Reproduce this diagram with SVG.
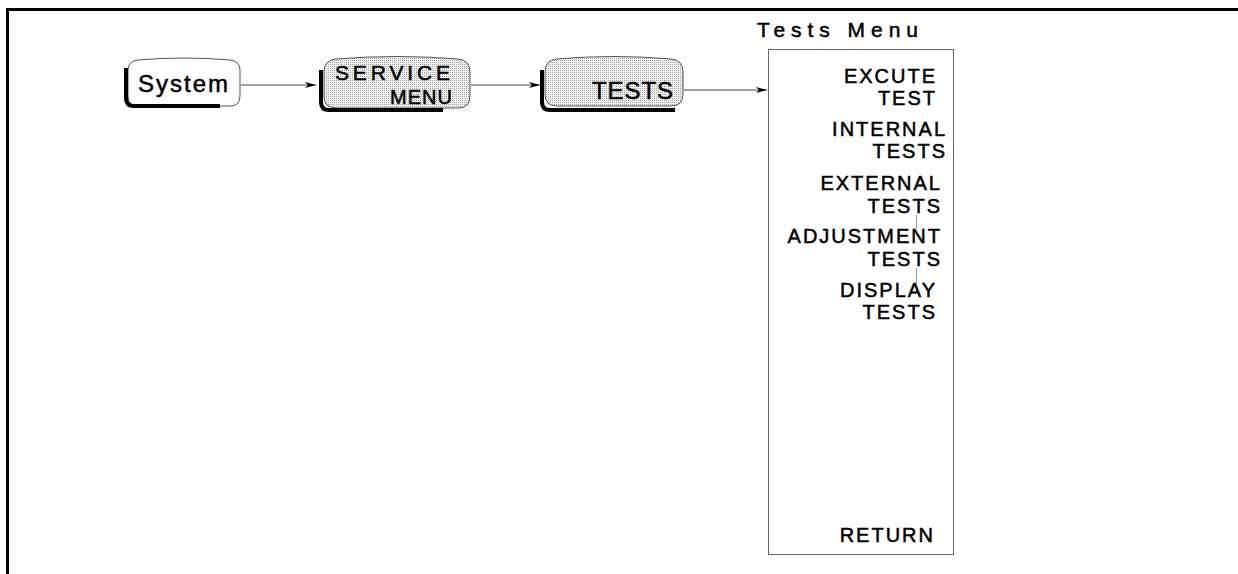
<svg xmlns="http://www.w3.org/2000/svg" width="1238" height="574" viewBox="0 0 1238 574">
<defs>
<pattern id="stip" width="2" height="2" patternUnits="userSpaceOnUse">
<rect width="2" height="2" fill="#f0f0f0"/>
<rect width="1" height="1" fill="#a8a8a8"/>
</pattern>
<marker id="ah" markerWidth="12" markerHeight="8" refX="11" refY="4" orient="auto" markerUnits="userSpaceOnUse">
<path d="M0,1 L11,4 L0,7 L3,4 Z" fill="#000"/>
</marker>
<style>
.outline{stroke:#555;stroke-width:1}
.shadow{fill:none;stroke:#000;stroke-width:4;stroke-linecap:butt}
.btn{font-family:"Liberation Sans",Arial,sans-serif;font-size:24px;fill:#000;stroke:#000;stroke-width:0.5px}
.mi{font-family:"Liberation Sans",Arial,sans-serif;font-size:20px;fill:#000;stroke:#000;stroke-width:0.5px;text-anchor:end;letter-spacing:2px}
.ttl{font-family:"Liberation Sans",Arial,sans-serif;font-size:21px;fill:#000;stroke:#000;stroke-width:0.5px}
.conn{stroke:#444;stroke-width:1;fill:none;marker-end:url(#ah)}
</style>
</defs>
<rect width="1238" height="574" fill="#fff"/>
<g id="frame">
<path d="M7.5,574 V9.5 H1238" fill="none" stroke="#000" stroke-width="3"/>
</g>
<g id="connectors">
<line class="conn" x1="241" y1="85" x2="316" y2="85"/>
<line class="conn" x1="471" y1="85" x2="540" y2="85"/>
<line class="conn" x1="684" y1="90" x2="767" y2="90"/>
</g>
<g id="node-system">
<path class="outline" fill="#fff" d="M138,60 Q184,56 230,60 Q240,61 240,70 V96 Q240,106 230,106 H138 Q128,106 128,96 V70 Q128,61 138,60 Z"/>
<path class="shadow" d="M126,68 V98 Q126,106 134,106 H220"/>
<text class="btn" x="138" y="92" textLength="90">System</text>
</g>
<g id="node-service-menu">
<path class="outline" fill="url(#stip)" d="M336,59 Q397,54 458,59 Q470,60 470,72 V96 Q470,108 458,108 H336 Q324,108 324,96 V72 Q324,60 336,59 Z"/>
<path class="shadow" d="M321,70 V102 Q321,110 329,110 H443" stroke-width="5"/>
<text class="btn" x="335" y="80" style="font-size:21px" textLength="115">SERVICE</text>
<text class="btn" x="390" y="104" style="font-size:20px" textLength="62">MENU</text>
</g>
<g id="node-tests">
<path class="outline" fill="url(#stip)" d="M557,59 Q614,54 671,59 Q683,60 683,72 V94 Q683,106 671,106 H557 Q545,106 545,94 V72 Q545,60 557,59 Z"/>
<path class="shadow" d="M542,70 V102 Q542,110 550,110 H675" stroke-width="5"/>
<text class="btn" x="592" y="99" textLength="81">TESTS</text>
</g>
<g id="node-tests-menu">
<text class="ttl" x="757" y="37" textLength="161">Tests Menu</text>
<rect x="768.5" y="49.5" width="185" height="505" fill="#fff" stroke="#666" stroke-width="1"/>
<text class="mi" x="937" y="83">EXCUTE</text>
<text class="mi" x="937" y="105">TEST</text>
<text class="mi" x="947" y="136">INTERNAL</text>
<text class="mi" x="947" y="158">TESTS</text>
<text class="mi" x="942" y="190">EXTERNAL</text>
<text class="mi" x="942" y="213">TESTS</text>
<text class="mi" x="942" y="243">ADJUSTMENT</text>
<text class="mi" x="942" y="266">TESTS</text>
<text class="mi" x="937" y="297">DISPLAY</text>
<text class="mi" x="937" y="319">TESTS</text>
<text class="mi" x="935" y="542">RETURN</text>
<line x1="916.5" y1="215" x2="916.5" y2="229" stroke="#999" stroke-width="1"/>
<line x1="916.5" y1="268" x2="916.5" y2="283" stroke="#999" stroke-width="1"/>
</g>
</svg>
